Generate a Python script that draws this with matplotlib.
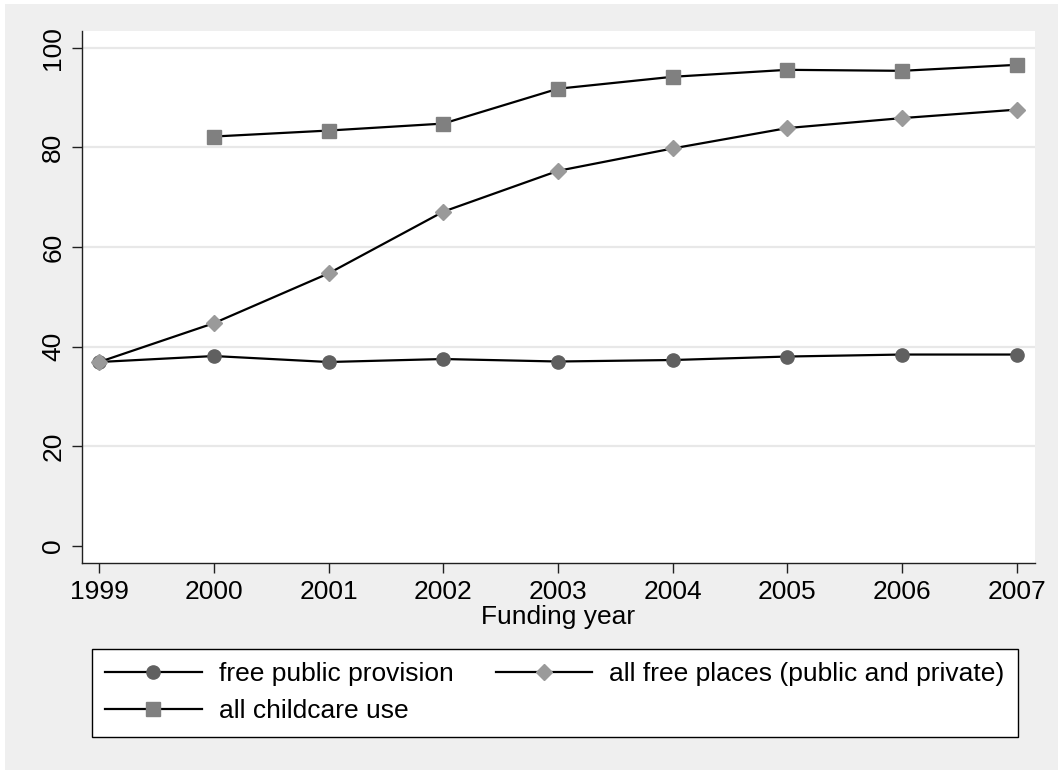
import matplotlib
matplotlib.use("Agg")
import matplotlib.pyplot as plt
from matplotlib.patches import Rectangle

plt.rcParams['font.family'] = ['Liberation Sans', 'DejaVu Sans']

years = [1999, 2000, 2001, 2002, 2003, 2004, 2005, 2006, 2007]
free_public = [36.9, 38.1, 36.9, 37.5, 37.0, 37.3, 38.0, 38.4, 38.4]
all_free = [36.9, 44.7, 54.7, 67.1, 75.3, 79.8, 83.9, 85.9, 87.6]
childcare_years = [2000, 2001, 2002, 2003, 2004, 2005, 2006, 2007]
childcare = [82.2, 83.4, 84.8, 91.8, 94.2, 95.6, 95.4, 96.6]
y_ticks = [0, 20, 40, 60, 80, 100]

fig = plt.figure(figsize=(10.58, 7.7), dpi=100, facecolor='white')
# grey graph region (small white strip at top and left)
fig.add_artist(Rectangle((5 / 1058, 0), 1, 1 - 4 / 770, transform=fig.transFigure,
                         facecolor='#efefef', edgecolor='none', zorder=-10))

ax = fig.add_axes([82 / 1058, 1 - 563 / 770, (1035 - 82) / 1058, (563 - 31) / 770])
ax.set_facecolor('white')

for v in y_ticks[1:]:
    ax.axhline(v, color='#e8e8e8', lw=1.6, zorder=0)

l1, = ax.plot(years, free_public, color='black', lw=1.6, marker='o', ms=9.5,
              mfc='#606060', mec='#606060', label='free public provision', zorder=3)
l2, = ax.plot(years, all_free, color='black', lw=1.6, marker='D', ms=8,
              mfc='#9a9a9a', mec='#9a9a9a', label='all free places (public and private)', zorder=3)
l3, = ax.plot(childcare_years, childcare, color='black', lw=1.6, marker='s', ms=10,
              mfc='#808080', mec='#808080', label='all childcare use', zorder=3)

ax.set_xlim(1998.85, 2007.16)
ax.set_ylim(-3.48, 103.4)
ax.set_xticks(years)
ax.set_yticks(y_ticks)
ax.set_yticklabels([str(v) for v in y_ticks], rotation=90, va='center')

for s in ['top', 'right']:
    ax.spines[s].set_visible(False)
for s in ['left', 'bottom']:
    ax.spines[s].set_linewidth(1.0)
    ax.spines[s].set_color('#202020')

ax.tick_params(axis='both', labelsize=19, length=7, width=1.0, color='#202020')
ax.tick_params(axis='x', pad=5)
ax.tick_params(axis='y', pad=5)
ax.set_xlabel('Funding year', fontsize=19, labelpad=1)

# legend fills column-wise, so order entries to read row by row
handles = [l1, l3, l2]
leg = fig.legend(handles, [h.get_label() for h in handles],
                 loc='upper left', bbox_to_anchor=(92 / 1058, 1 - 649 / 770),
                 ncol=2, fontsize=19, frameon=True, fancybox=False,
                 edgecolor='black', facecolor='white', framealpha=1,
                 handlelength=3.65, handletextpad=0.65, columnspacing=1.6,
                 labelspacing=0.5, borderpad=0.5, borderaxespad=0)
leg.get_frame().set_linewidth(1.0)

fig.savefig('out.png', dpi=100, facecolor=fig.get_facecolor())
